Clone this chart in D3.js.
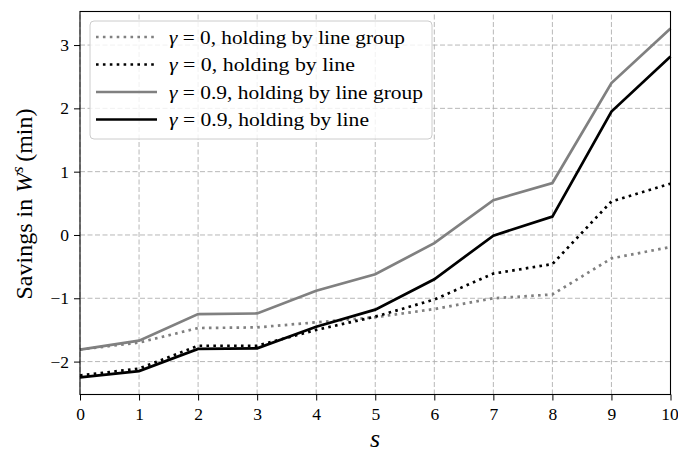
<!DOCTYPE html>
<html>
<head>
<meta charset="utf-8">
<script src="https://cdn.jsdelivr.net/npm/d3@7"></script>
<style>
  body { margin: 0; background: #fff; }
  text { font-family: "Liberation Serif", "DejaVu Serif", serif; }
</style>
</head>
<body>
<script>
// chart size
var w = 678, h = 453;
var margin = {top: 11.5, right: 7.5, bottom: 58.5, left: 80};

// data
var steps = [0, 1, 2, 3, 4, 5, 6, 7, 8, 9, 10];
var g0Group = [-1.81, -1.70, -1.47, -1.46, -1.38, -1.30, -1.17, -1.00, -0.94, -0.37, -0.19];
var g0Line  = [-2.22, -2.11, -1.75, -1.75, -1.50, -1.29, -1.02, -0.61, -0.46, 0.53, 0.81];
var g9Group = [-1.81, -1.67, -1.25, -1.24, -0.88, -0.62, -0.13, 0.55, 0.82, 2.40, 3.26];
var g9Line  = [-2.25, -2.15, -1.80, -1.79, -1.45, -1.18, -0.70, -0.01, 0.29, 1.95, 2.82];
var yTicks = [-2, -1, 0, 1, 2, 3];

var series = [
    {gamma: "0", label: ", holding by line group", values: g0Group, color: "#808080", dash: "2.6,4.3", tl: 236},
    {gamma: "0", label: ", holding by line", values: g0Line, color: "#000000", dash: "2.6,4.3", tl: 186},
    {gamma: "0.9", label: ", holding by line group", values: g9Group, color: "#808080", dash: null, tl: 254},
    {gamma: "0.9", label: ", holding by line", values: g9Line, color: "#000000", dash: null, tl: 200}
];

var svg = d3.select("body")
    .append("svg")
    .attr("width", w)
    .attr("height", h);

var x = d3.scaleLinear()
    .domain([0, 10])
    .range([margin.left, w - margin.right]);

var y = d3.scaleLinear()
    .domain([-2.52, 3.53])
    .range([h - margin.bottom, margin.top]);

// grid
svg.append("g").selectAll("line")
    .data(steps)
    .enter()
    .append("line")
    .attr("x1", function(d){ return x(d); })
    .attr("x2", function(d){ return x(d); })
    .attr("y1", y.range()[0])
    .attr("y2", y.range()[1])
    .attr("stroke", "#b0b0b0")
    .attr("stroke-width", 0.9)
    .attr("stroke-dasharray", "5,2.5");

svg.append("g").selectAll("line")
    .data(yTicks)
    .enter()
    .append("line")
    .attr("x1", x.range()[0])
    .attr("x2", x.range()[1])
    .attr("y1", function(d){ return y(d); })
    .attr("y2", function(d){ return y(d); })
    .attr("stroke", "#b0b0b0")
    .attr("stroke-width", 0.9)
    .attr("stroke-dasharray", "5,2.5");

// lines
var line = d3.line()
    .x(function(d, i){ return x(steps[i]); })
    .y(function(d){ return y(d); });

svg.append("g").selectAll("path")
    .data(series)
    .enter()
    .append("path")
    .attr("d", function(d){ return line(d.values); })
    .attr("fill", "none")
    .attr("stroke", function(d){ return d.color; })
    .attr("stroke-width", 2.7)
    .attr("stroke-linejoin", "miter")
    .attr("stroke-dasharray", function(d){ return d.dash; });

// axes
var xAxis = svg.append("g")
    .attr("transform", "translate(0," + y.range()[0] + ")")
    .call(d3.axisBottom(x).tickValues(steps).tickSize(6).tickPadding(5).tickFormat(d3.format("d")));

var yAxis = svg.append("g")
    .attr("transform", "translate(" + x.range()[0] + ",0)")
    .call(d3.axisLeft(y).tickValues(yTicks).tickSize(6).tickPadding(5)
        .tickFormat(function(d){ return d < 0 ? "\u2212" + Math.abs(d) : d; }));

[xAxis, yAxis].forEach(function(a){
    a.select(".domain").remove();
    a.selectAll(".tick line").attr("stroke", "#000").attr("stroke-width", 1);
    a.selectAll(".tick text")
        .attr("fill", "#000")
        .style("font-size", "17.5px")
        .style("font-family", "'Liberation Serif', serif");
});
xAxis.selectAll(".tick text").attr("dy", "0.85em");
// the last label sits right on the page edge, as in the picture
xAxis.selectAll(".tick text").filter(function(d){ return d === 10; }).attr("dx", -1);

// frame
svg.append("rect")
    .attr("x", x.range()[0])
    .attr("y", y.range()[1])
    .attr("width", x.range()[1] - x.range()[0])
    .attr("height", y.range()[0] - y.range()[1])
    .attr("fill", "none")
    .attr("stroke", "#000")
    .attr("stroke-width", 1.1);

// axis labels
svg.append("text")
    .attr("x", 375)
    .attr("y", 447)
    .attr("text-anchor", "middle")
    .style("font-size", "26px")
    .style("font-style", "italic")
    .text("s");

var yl = svg.append("text")
    .attr("transform", "translate(32,204) rotate(-90)")
    .attr("text-anchor", "middle")
    .style("font-size", "24px");
yl.append("tspan").text("Savings in ");
yl.append("tspan").style("font-style", "italic").text("W");
yl.append("tspan").attr("dy", -9).style("font-size", "16px").style("font-style", "italic").text("s");
yl.append("tspan").attr("dy", 9).text("\u2009(min)");

// legend
var legend = svg.append("g");
legend.append("rect")
    .attr("x", 90)
    .attr("y", 21)
    .attr("width", 342)
    .attr("height", 118)
    .attr("rx", 4)
    .attr("fill", "#fff")
    .attr("fill-opacity", 0.8)
    .attr("stroke", "#cccccc")
    .attr("stroke-width", 1);

var items = legend.selectAll(".item")
    .data(series)
    .enter()
    .append("g")
    .attr("class", "item")
    .attr("transform", function(d, i){ return "translate(0," + (37 + i * 27.5) + ")"; });

items.append("line")
    .attr("x1", 96)
    .attr("x2", 157)
    .attr("stroke", function(d){ return d.color; })
    .attr("stroke-width", 2.7)
    .attr("stroke-dasharray", function(d){ return d.dash; });

var lt = items.append("text")
    .attr("x", 169)
    .attr("dy", "0.35em")
    .attr("textLength", function(d){ return d.tl; })
    .attr("lengthAdjust", "spacingAndGlyphs")
    .style("font-size", "19.5px");
lt.append("tspan").style("font-style", "italic").text("\u03b3");
lt.append("tspan").text(function(d){ return " = " + d.gamma; });
lt.append("tspan").text(function(d){ return d.label; });
</script>
</body>
</html>
